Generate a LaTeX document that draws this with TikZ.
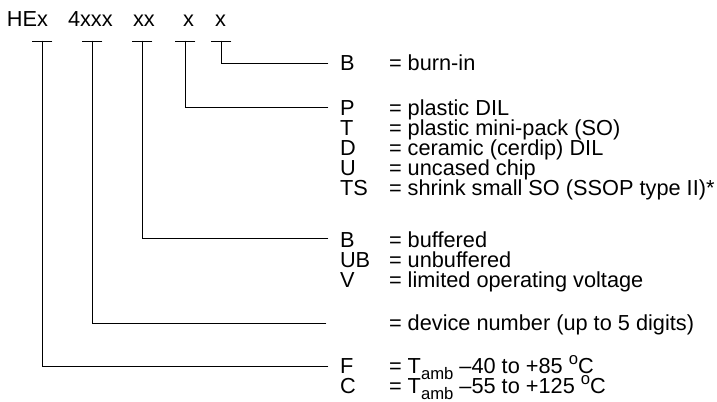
\documentclass[tikz,border=0pt]{standalone}
\usepackage{fontspec}
\setmainfont{Liberation Sans}
\newcommand{\tamb}{T\raisebox{-0.5ex}{\fontsize{12.5}{13}\selectfont amb}}
\newcommand{\degc}{\raisebox{0.8ex}{\fontsize{12.5}{13}\selectfont o}C}
\begin{document}
\begin{tikzpicture}[x=0.75pt,y=-0.75pt,
  every node/.style={inner sep=0pt,outer sep=0pt,font=\fontsize{16.3}{19}\selectfont},
  ln/.style={line width=0.7pt,line cap=rect},
  hdr/.style={anchor=base west},
  key/.style={anchor=base west},
  desc/.style={anchor=base west}]
\useasboundingbox (0,0) rectangle (717,402);
% header
\node[hdr] (h1) at (7,27) {HEx};
\node[hdr] (h2) at (68,27) {4xxx};
\node[hdr] (h3) at (133,27) {xx};
\node[hdr] (h4) at (183,27) {x};
\node[hdr] (h5) at (215,27) {x};
% T-bar tops
\coordinate (t1) at (42,41);
\coordinate (t2) at (92,41);
\coordinate (t3) at (142,41);
\coordinate (t4) at (185,41);
\coordinate (t5) at (221,41);
\foreach \t in {t1,t2,t3,t4,t5}{\draw[ln] ([xshift=-7.5]\t) -- ([xshift=7.5]\t);}
% line ends
\coordinate (e5) at (328,63);
\coordinate (e4) at (328,107);
\coordinate (e3) at (328,238);
\coordinate (e2) at (326,323);
\coordinate (e1) at (328,366);
\draw[ln] (t5) |- (e5);
\draw[ln] (t4) |- (e4);
\draw[ln] (t3) |- (e3);
\draw[ln] (t2) |- (e2);
\draw[ln] (t1) |- (e1);
% keys and descriptions
\node[key] (kB) at (340,70.75) {B};
\node[desc] (dB) at (389,70.75) {= burn-in};
\node[key] (kP) at (340,115.75) {P};
\node[desc] (dP) at (389,115.75) {= plastic DIL};
\node[key] (kT) at (340,135.75) {T};
\node[desc] (dT) at (389,135.75) {= plastic mini-pack (SO)};
\node[key] (kD) at (340,155.75) {D};
\node[desc] (dD) at (389,155.75) {= ceramic (cerdip) DIL};
\node[key] (kU) at (340,175.75) {U};
\node[desc] (dU) at (389,175.75) {= uncased chip};
\node[key] (kTS) at (340,195.75) {TS};
\node[desc] (dTS) at (389,195.75) {= shrink small SO (SSOP type II)*};
\node[key] (kBb) at (340,247.75) {B};
\node[desc] (dBb) at (389,247.75) {= buffered};
\node[key] (kUB) at (340,267.75) {UB};
\node[desc] (dUB) at (389,267.75) {= unbuffered};
\node[key] (kV) at (340,287.75) {V};
\node[desc] (dV) at (389,287.75) {= limited operating voltage};
\node[desc] (dN) at (389,330.75) {= device number (up to 5 digits)};
\node[key] (kF) at (340,373.75) {F};
\node[desc] (dF) at (389,373.75) {= \tamb{} \textendash40 to +85 \degc};
\node[key] (kC) at (340,393.75) {C};
\node[desc] (dC) at (389,393.75) {= \tamb{} \textendash55 to +125 \degc};
\end{tikzpicture}
\end{document}
